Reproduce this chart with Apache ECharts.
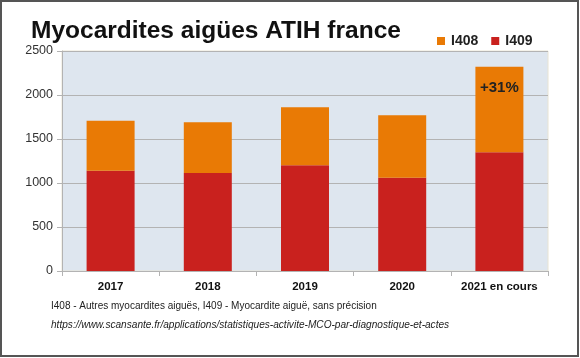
<!DOCTYPE html>
<html><head><meta charset="utf-8">
<script src="https://cdn.jsdelivr.net/npm/echarts@6/dist/echarts.min.js"></script>
<style>html,body{margin:0;padding:0;background:#fff}#c{width:580px;height:358px}</style>
</head><body><div id="c"></div>
<script>
const categories = ['2017', '2018', '2019', '2020', '2021 en cours'];
const i409 = [1140, 1114, 1201, 1060, 1349];
const i408Top = [1708, 1690, 1860, 1769, 2322];
const i408 = i408Top.map((t, k) => t - i409[k]);
const barLabels = ['', '', '', '', '+31%'];
const yTicks = [0, 500, 1000, 1500, 2000, 2500];

const chart = echarts.init(document.getElementById('c'));
chart.setOption({
  animation: false,
  backgroundColor: '#fff',
  textStyle: { fontFamily: 'Liberation Sans, Arial, sans-serif' },
  title: [
    { text: 'Myocardites aigües ATIH france', left: 31, top: 19, padding: 0,
      textStyle: { fontSize: 24.5, fontWeight: 'bold', color: '#111', fontFamily: 'Liberation Sans' } },
    { text: 'I408 - Autres myocardites aiguës, I409 - Myocardite aiguë, sans précision', left: 51, top: 301, padding: 0,
      textStyle: { fontSize: 10, fontWeight: 'normal', color: '#222', fontFamily: 'Liberation Sans' } },
    { text: 'https://www.scansante.fr/applications/statistiques-activite-MCO-par-diagnostique-et-actes', left: 51, top: 320, padding: 0,
      textStyle: { fontSize: 10.1, fontWeight: 'normal', fontStyle: 'italic', color: '#222', fontFamily: 'Liberation Sans' } }
  ],
  legend: {
    data: ['I408', 'I409'],
    left: 437, top: 34, padding: 0,
    icon: 'rect', itemWidth: 8, itemHeight: 8, itemGap: 13,
    textStyle: { fontSize: 14, fontWeight: 'bold', color: '#222', fontFamily: 'Liberation Sans', padding: [0, 0, 0, 1] }
  },
  grid: { left: 62, right: 32, top: 51, bottom: 87, show: true, backgroundColor: '#dee6ef', borderColor: '#e8e4d4', borderWidth: 1 },
  xAxis: {
    type: 'category', data: categories,
    axisLine: { lineStyle: { color: '#b3b3b3' } },
    axisTick: { show: true, length: 5, lineStyle: { color: '#b3b3b3' } },
    axisLabel: { interval: 0, fontSize: 11.5, fontWeight: 'bold', color: '#111', margin: 10, fontFamily: 'Liberation Sans' }
  },
  yAxis: {
    type: 'value', min: yTicks[0], max: yTicks[yTicks.length - 1], interval: 500,
    axisLine: { show: true, lineStyle: { color: '#b3b3b3' } },
    axisTick: { show: true, length: 5, lineStyle: { color: '#b3b3b3' } },
    splitLine: { lineStyle: { color: '#b3b3b3' } },
    axisLabel: { fontSize: 12.5, color: '#333', margin: 9, fontFamily: 'Liberation Sans', formatter: v => String(v) }
  },
  series: [
    { name: 'I409', type: 'bar', stack: 's', data: i409, barWidth: 48, itemStyle: { color: '#c9211e' } },
    { name: 'I408', type: 'bar', stack: 's', barWidth: 48, itemStyle: { color: '#e97a05' },
      data: i408.map((v, k) => ({ value: v, label: { show: barLabels[k] !== '', formatter: barLabels[k] } })),
      label: { position: 'insideTop', distance: 14, fontSize: 15, fontWeight: 'bold', color: '#222', fontFamily: 'Liberation Sans' } }
  ],
  graphic: [
    { type: 'rect', silent: true, z: 100, shape: { x: 1, y: 1, width: 577, height: 355 },
      style: { fill: 'none', stroke: '#555', lineWidth: 2 } }
  ]
});
</script></body></html>
